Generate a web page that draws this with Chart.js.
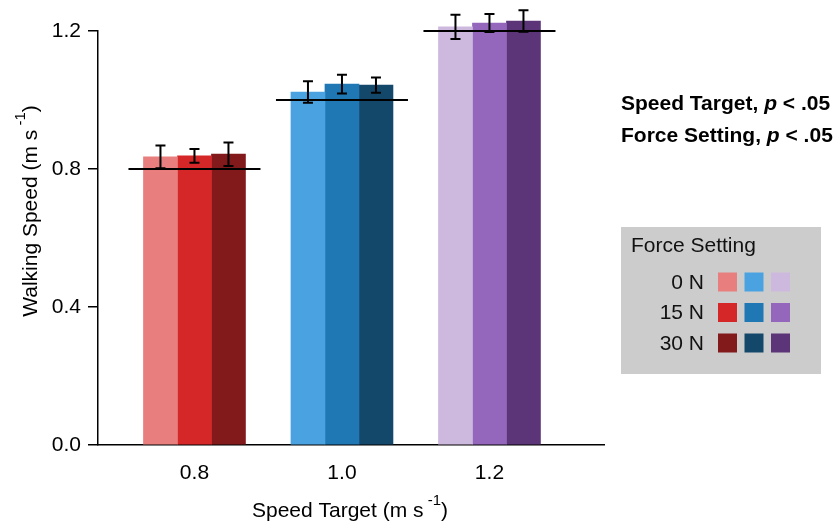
<!DOCTYPE html>
<html>
<head>
<meta charset="utf-8">
<script src="https://cdn.jsdelivr.net/npm/chart.js@4/dist/chart.umd.min.js"></script>
<style>
  body { margin: 0; background: #fff; }
  #wrap { width: 833px; height: 525px; position: relative; }
</style>
</head>
<body>
<div id="wrap"><canvas id="speedChart"></canvas></div>
<script>
// speed targets (x categories) and mean walking speed per force setting
const speedTargets = [0.8, 1.0, 1.2];
const forceLabels = ["0 N", "15 N", "30 N"];
const speed0N = [0.835, 1.023, 1.212];
const speed15N = [0.838, 1.046, 1.223];
const speed30N = [0.843, 1.043, 1.229];
const err0N = [0.033, 0.031, 0.035];
const err15N = [0.020, 0.027, 0.026];
const err30N = [0.034, 0.022, 0.031];
const yTicks = [0.0, 0.4, 0.8, 1.2];

// one colour per speed target, shade per force setting
const colors0N = ["#e87e7e", "#4aa3e0", "#cdb9de"];
const colors15N = ["#d62728", "#1f77b4", "#9467bd"];
const colors30N = ["#82191b", "#14486b", "#5b3577"];

const FONT = "'Liberation Sans', Arial, sans-serif";

function makeDataset(label, values, errors, colors) {
  return {
    label: label,
    data: speedTargets.map((x, i) => ({ x: x, y: values[i] })),
    errors: errors,
    backgroundColor: colors,
    borderWidth: 0,
    barThickness: 34,
    clip: false,
  };
}

// draw a row of text pieces (different fonts / raise) starting at x
function drawPieces(ctx, pieces, x, y, align) {
  let total = 0;
  pieces.forEach((p) => {
    ctx.font = p.font;
    total += ctx.measureText(p.text).width;
  });
  let cx = align === "center" ? x - total / 2 : x;
  ctx.textAlign = "left";
  pieces.forEach((p) => {
    ctx.font = p.font;
    ctx.fillText(p.text, cx, y - (p.raise || 0));
    cx += ctx.measureText(p.text).width;
  });
}

const extrasPlugin = {
  id: "extras",
  afterDatasetsDraw(chart) {
    const ctx = chart.ctx;
    const xs = chart.scales.x;
    const ys = chart.scales.y;
    ctx.save();
    ctx.strokeStyle = "#000";
    // target speed lines
    ctx.lineWidth = 2;
    speedTargets.forEach((t) => {
      const cx = xs.getPixelForValue(t);
      const py = ys.getPixelForValue(t);
      ctx.beginPath();
      ctx.moveTo(cx - 66, py);
      ctx.lineTo(cx + 66, py);
      ctx.stroke();
    });
    // error bars
    chart.data.datasets.forEach((ds, di) => {
      const meta = chart.getDatasetMeta(di);
      meta.data.forEach((bar, i) => {
        const v = ds.data[i].y;
        const e = ds.errors[i];
        const top = ys.getPixelForValue(v + e);
        const bot = ys.getPixelForValue(v - e);
        ctx.beginPath();
        ctx.moveTo(bar.x, top);
        ctx.lineTo(bar.x, bot);
        ctx.moveTo(bar.x - 5, top);
        ctx.lineTo(bar.x + 5, top);
        ctx.moveTo(bar.x - 5, bot);
        ctx.lineTo(bar.x + 5, bot);
        ctx.stroke();
      });
    });
    ctx.restore();
  },
  afterDraw(chart) {
    const ctx = chart.ctx;
    ctx.save();
    ctx.fillStyle = "#000";
    ctx.textBaseline = "alphabetic";

    // axis titles with superscript
    const reg = "21px " + FONT;
    const sup = "15px " + FONT;
    drawPieces(ctx, [
      { text: "Speed Target (m s", font: reg },
      { text: " -1", font: sup, raise: 12 },
      { text: ")", font: reg },
    ], 350, 517, "center");

    ctx.save();
    ctx.translate(37, 211);
    ctx.rotate(-Math.PI / 2);
    drawPieces(ctx, [
      { text: "Walking Speed (m s", font: reg },
      { text: " -1", font: sup, raise: 12 },
      { text: ")", font: reg },
    ], 0, 0, "center");
    ctx.restore();

    // statistics notes
    const bold = "bold 21px " + FONT;
    const boldIt = "italic bold 21px " + FONT;
    drawPieces(ctx, [
      { text: "Speed Target, ", font: bold },
      { text: "p", font: boldIt },
      { text: " < .05", font: bold },
    ], 621, 110, "left");
    drawPieces(ctx, [
      { text: "Force Setting, ", font: bold },
      { text: "p", font: boldIt },
      { text: " < .05", font: bold },
    ], 621, 142, "left");

    // legend box
    ctx.fillStyle = "#cccccc";
    ctx.fillRect(621, 227, 200, 147);
    ctx.fillStyle = "#111";
    ctx.font = reg;
    ctx.textAlign = "left";
    ctx.fillText("Force Setting", 631, 252);
    const rowColors = [colors0N, colors15N, colors30N];
    ctx.textBaseline = "middle";
    forceLabels.forEach((lab, r) => {
      const cy = 282 + r * 30.5;
      ctx.fillStyle = "#111";
      ctx.textAlign = "right";
      ctx.fillText(lab, 704, cy + 1);
      rowColors[r].forEach((c, j) => {
        ctx.fillStyle = c;
        ctx.fillRect(718 + j * 26.5, cy - 9.5, 19, 19);
      });
    });
    ctx.restore();
  },
};

new Chart(document.getElementById("speedChart"), {
  type: "bar",
  data: {
    datasets: [
      makeDataset(forceLabels[0], speed0N, err0N, colors0N),
      makeDataset(forceLabels[1], speed15N, err15N, colors15N),
      makeDataset(forceLabels[2], speed30N, err30N, colors30N),
    ],
  },
  options: {
    responsive: true,
    maintainAspectRatio: false,
    animation: false,
    devicePixelRatio: 1,
    layout: { padding: { top: 31, right: 229, left: 0, bottom: 0 } },
    plugins: { legend: { display: false }, tooltip: { enabled: false } },
    scales: {
      x: {
        type: "linear",
        offset: false,
        min: 0.6692,
        max: 1.3553,
        afterBuildTicks: (scale) => {
          scale.ticks = speedTargets.map((v) => ({ value: v }));
        },
        afterFit: (scale) => { scale.height = 80; },
        grid: { display: false, drawTicks: false, offset: false },
        border: { display: true, color: "#000", width: 1.5 },
        ticks: {
          autoSkip: false,
          maxRotation: 0,
          padding: 16,
          color: "#000",
          font: { family: FONT, size: 21 },
          callback: (v) => Number(v).toFixed(1),
        },
      },
      y: {
        min: 0,
        max: 1.2,
        afterBuildTicks: (scale) => {
          scale.ticks = yTicks.map((v) => ({ value: v }));
        },
        afterFit: (scale) => { scale.width = 98; },
        grid: { drawOnChartArea: false, drawTicks: true, tickLength: 10, color: "#000", lineWidth: 1.5 },
        border: { display: true, color: "#000", width: 1.5 },
        ticks: {
          padding: 7,
          color: "#000",
          font: { family: FONT, size: 21 },
          callback: (v) => Number(v).toFixed(1),
        },
      },
    },
  },
  plugins: [extrasPlugin],
});
</script>
</body>
</html>
